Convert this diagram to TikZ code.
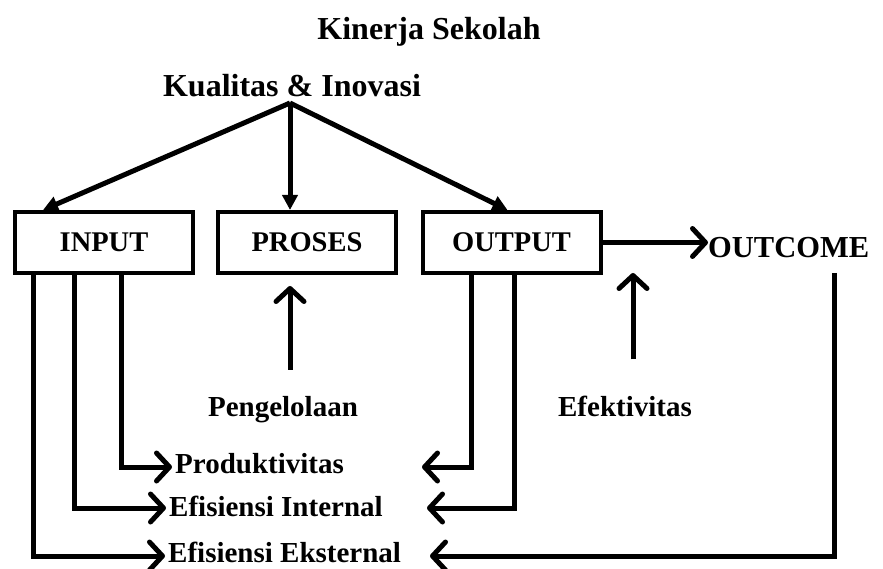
\documentclass[tikz,border=0pt]{standalone}
\usepackage{fontspec}
\setmainfont{Liberation Serif}
\usetikzlibrary{arrows.meta, positioning, calc}

\begin{document}
\begin{tikzpicture}[
        x=1pt, y=-1pt,
        box/.style={draw, line width=4pt, minimum width=178pt, minimum height=61pt, inner sep=0pt, align=center, font=\fontsize{28.5}{34}\selectfont\bfseries},
        head/.style={inner sep=0pt, font=\fontsize{32}{38}\selectfont\bfseries},
        lbl/.style={inner sep=3pt, anchor=west, font=\fontsize{29}{35}\selectfont\bfseries},
        tri/.style={-{Triangle[length=15pt, width=15pt]}, line width=5pt},
        barb/.style={-{Straight Barb[length=13pt, width=28pt, round]}, line width=5pt}
    ]
        \useasboundingbox (0,0) rectangle (883,569);
        % titles
        \node[head, anchor=base] (title) at (429,40) {Kinerja Sekolah};
        \node[head, anchor=base] (kual) at (292,97) {Kualitas \& Inovasi};
        \coordinate (top) at (290,103);
        % boxes
        \node[box] (input) at (104,242.5) {INPUT};
        \node[box] (proses) at (307,242.5) {PROSES};
        \node[box] (output) at (511.5,242.5) {OUTPUT};
        \node[head, font=\fontsize{30.5}{36}\selectfont\bfseries, anchor=base west] (outcome) at (708,258) {OUTCOME};
        % labels below
        \node[head, font=\fontsize{29}{35}\selectfont\bfseries, anchor=base] (kelola) at (283,416) {Pengelolaan};
        \node[head, font=\fontsize{29}{35}\selectfont\bfseries, anchor=base] (efek) at (625,416) {Efektivitas};
        \node[lbl] (prod) at (172,464) {Produktivitas};
        \node[lbl] (efin) at (166,506) {Efisiensi Internal};
        \node[lbl] (efek2) at (165,552) {Efisiensi Eksternal};
        \coordinate (prodR) at (422,467);
        \coordinate (efinR) at (427,508);
        \coordinate (eksR) at (430,556);
        \coordinate (efekT) at (633,273);
        % arrows from the top
        \draw[tri] (top) -- ([xshift=30pt]input.north west);
        \draw[tri] (top) -- (proses.north -| top);
        \draw[tri] (top) -- ([xshift=87pt]output.north west);
        % output to outcome
        \draw[barb] (output.east) -- (outcome.west |- output.east);
        % up arrows
        \draw[barb] ([yshift=26pt]kelola.north -| top) -- ([yshift=-11pt]proses.south -| top);
        \draw[barb] ([yshift=36pt]efek.north -| efekT) -- (efekT);
        % input lines
        \draw[barb] ([xshift=108pt]input.south west) |- (prod.west |- prodR);
        \draw[barb] ([xshift=61pt]input.south west) |- (efin.west |- efinR);
        \draw[barb] ([xshift=20pt]input.south west) |- (efek2.west |- eksR);
        % output lines
        \draw[barb] ([xshift=51pt]output.south west) |- (prodR);
        \draw[barb] ([xshift=94pt]output.south west) |- (efinR);
        \draw[barb] (834,273) |- (eksR);
    \end{tikzpicture}
\end{document}
